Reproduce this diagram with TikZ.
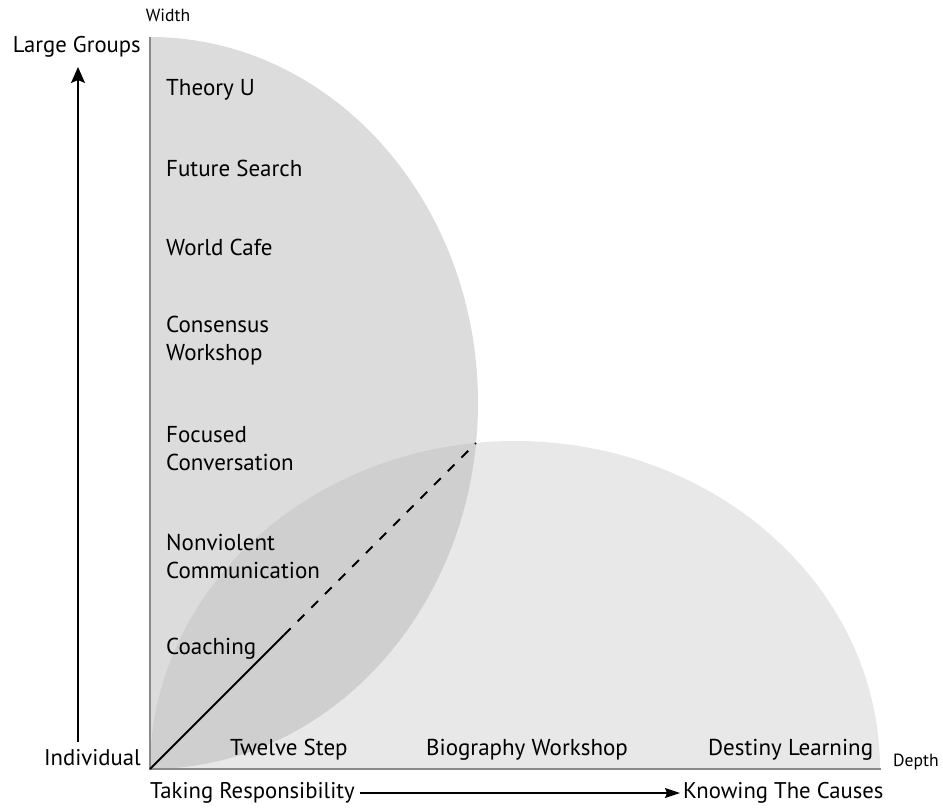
\documentclass[tikz,border=0pt]{standalone}
\usepackage{fontspec}
\setmainfont{PT Sans}
\usetikzlibrary{arrows.meta}
\definecolor{widthgray}{HTML}{DCDCDC}
\definecolor{depthgray}{HTML}{E8E8E8}
\definecolor{lensgray}{HTML}{CFCFCF}
\definecolor{axisgray}{HTML}{8A8A8A}
\tikzset{
    method/.style={anchor=west, inner sep=0pt, align=left,
        font=\fontsize{23}{28}\selectfont},
    side/.style={inner sep=0pt, font=\fontsize{22.7}{26}\selectfont},
    tag/.style={inner sep=0pt, font=\fontsize{17.6}{20}\selectfont},
    axis/.style={draw=axisgray, line width=1.6pt},
    varrow/.style={line width=1.6pt, -{Stealth[length=16pt,width=14pt,inset=3pt]}},
    harrow/.style={line width=1.4pt, -{Stealth[length=15pt,width=10pt,inset=2pt]}},
}
\begin{document}
\begin{tikzpicture}[x=1pt,y=1pt]
    \useasboundingbox (0,0) rectangle (943,-807);
    \coordinate (o) at (150,-769);
    \coordinate (meet) at (476,-443);
    % width (vertical) and depth (horizontal) half-ellipses
    \fill[widthgray] (150,-37) arc[start angle=90, end angle=-90, x radius=328, y radius=366] -- cycle;
    \fill[depthgray] (o) arc[start angle=180, end angle=0, x radius=365, y radius=328] -- cycle;
    \begin{scope}
        \clip (150,-37) arc[start angle=90, end angle=-90, x radius=328, y radius=366] -- cycle;
        \fill[lensgray] (o) arc[start angle=180, end angle=0, x radius=365, y radius=328] -- cycle;
    \end{scope}
    \draw[axis] (150,-37) -- (o) -- (881,-769);
    % diagonal
    \draw[line width=1.8pt] (o) -- (284,-635) coordinate (mid);
    \draw[line width=1.8pt, dash pattern=on 9.5pt off 9.8pt] (mid) -- (meet);

    \node[method] (theory) at (166,-90) {Theory U};
    \node[method] (future) at (166,-168) {Future Search};
    \node[method] (world) at (166,-247) {World Cafe};
    \node[method] (consensus) at (166,-341) {Consensus\\Workshop};
    \node[method] (focused) at (166,-449) {Focused\\Conversation};
    \node[method] (nonviolent) at (166,-556) {Nonviolent\\Communication};
    \node[method] (coaching) at (166,-649) {Coaching};
    \node[method] (twelve) at (230,-750) {Twelve Step};
    \node[method] (biography) at (426,-750) {Biography Workshop};
    \node[method] (destiny) at (708,-750) {Destiny Learning};

    \node[tag] (width) at (168,-15) {Width};
    \node[tag, anchor=west] (depth) at (893,-762) {Depth};
    \node[side, anchor=east] (large) at (141,-47) {Large Groups};
    \node[side, anchor=east] (individual) at (141,-758) {Individual};
    \node[side, anchor=west] (taking) at (150,-793) {Taking Responsibility};
    \node[side, anchor=west] (knowing) at (683,-793) {Knowing The Causes};

    \coordinate (vlow) at (78,-742);
    \coordinate (vhigh) at (78,-67);
    \draw[varrow] (vlow) -- (vhigh);
    \draw[harrow] ([xshift=5pt]taking.east) -- ([xshift=-3pt]knowing.west);
\end{tikzpicture}
\end{document}
